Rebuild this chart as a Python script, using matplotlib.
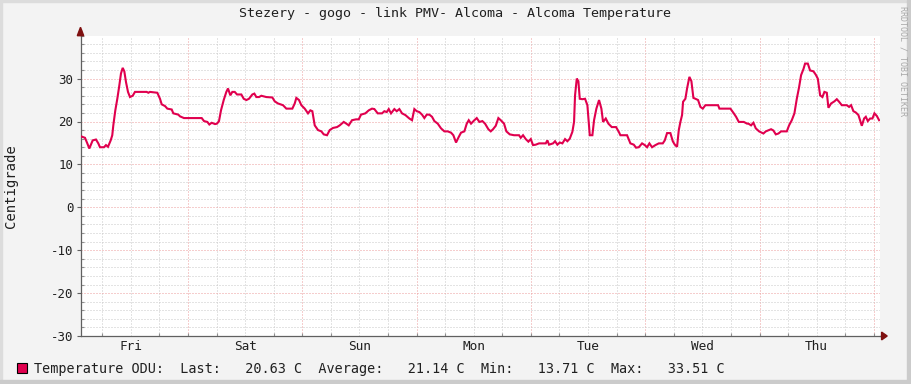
import matplotlib
matplotlib.use("Agg")
import matplotlib.pyplot as plt
from matplotlib.patches import Rectangle, Polygon
from matplotlib.ticker import MultipleLocator, FixedLocator

# hours since Friday 00:00 of the first day, temperature in C
hours = [
    1.4, 2.37, 2.86, 3.28, 3.99, 4.68, 5.17, 5.52, 6.36, 6.78, 7.2, 7.77, 8.1, 8.32,
    8.74, 9.16, 9.58, 9.93, 10.29, 10.63, 10.98, 11.4, 11.82, 12.39, 12.87, 15.33,
    15.67, 16.02, 17.56, 18.12, 18.48, 19.17, 19.66, 20.58, 20.92, 21.97, 22.32,
    23.16, 26.88, 27.36, 28.06, 28.48, 28.98, 29.67,
    30.09, 30.51, 30.93, 31.5, 32.05, 32.4, 32.89, 33.31, 33.81, 34.29, 35.2, 35.7,
    36.25, 36.81, 37.09, 37.51, 37.93, 38.35, 38.91, 39.4, 40.45, 41.71, 42.21,
    42.9, 43.95, 44.65, 45.91, 46.41, 46.75, 47.31, 47.8, 48.51, 49.2, 49.69,
    50.11, 50.61, 51.3, 52.0, 52.5, 53.19, 53.76, 54.45, 55.29, 55.86, 56.7, 57.25,
    57.75, 58.44, 59.28, 59.85, 60.33, 61.24, 61.95, 62.64, 63.13, 63.84, 64.74,
    65.23, 65.73, 66.15, 66.63, 67.33, 67.83, 68.38, 68.94, 69.64, 70.48, 71.04,
    71.53, 72.03, 72.58, 73.14, 73.63, 74.13, 74.68, 75.24, 75.73, 76.44, 77.13,
    77.83, 78.54, 79.23, 79.72, 80.28, 80.85, 81.33, 82.03, 82.53, 82.95, 83.43,
    84.13, 84.63, 85.18,
    85.81, 86.37, 87.07, 87.57, 88.05, 88.62, 89.17, 89.67, 90.36, 90.85, 91.56,
    92.46, 93.51, 93.87, 94.35, 94.92, 95.47, 95.97, 96.45, 97.02, 97.71, 99.12,
    99.46, 99.81, 100.65, 101.07, 101.56, 102.06, 102.61, 103.17, 103.66, 104.16,
    104.71, 105.06, 105.27, 105.63, 105.97, 106.26, 106.81, 107.37, 107.86, 108.36,
    108.91, 109.26, 109.75, 110.31, 110.8, 111.15, 111.72, 112.27, 112.98, 113.47,
    113.88, 114.45, 114.79, 116.19, 116.89, 117.6, 118.08, 118.65, 119.34, 119.91,
    120.39, 120.88, 121.44, 122.14, 122.85, 123.69, 124.11, 124.59, 125.29, 125.79,
    126.21, 126.69, 127.05, 127.39, 127.74, 127.95, 128.44, 128.79, 129.28, 129.7,
    130.12, 130.54, 131.1, 131.59, 132.09, 132.64, 133.35, 135.3, 135.58, 137.89,
    138.6, 139.08, 139.65, 140.7, 141.39,
    141.67, 142.23, 142.72, 143.22, 143.91, 144.82, 145.32, 146.43, 146.92, 147.42,
    147.97, 148.53, 149.73, 150.21, 150.78, 151.33, 151.83, 152.31, 152.73, 153.22,
    153.57, 154.14, 154.62, 155.32, 155.82, 156.24, 156.73, 157.21, 157.63, 158.13,
    158.47, 159.03, 159.73, 160.23, 160.71, 161.28, 162.33, 162.81, 163.23, 163.72,
    164.22, 164.77, 165.12, 165.48, 165.96, 166.32, 166.74, 167.23, 167.71, 168.13,
    168.63, 169.11,
]
temps = [
    16.6, 16.2, 14.9, 13.7, 15.6, 15.8, 14.9, 14.0, 14.0, 14.5, 14.1, 15.6, 16.8, 19.1,
    22.6, 25.3, 28.4, 31.2, 32.5, 31.7, 29.2, 26.9, 25.7, 26.0, 26.9, 26.9,
    26.7, 26.9, 26.7, 25.3, 24.0, 23.6, 23.0, 22.8, 21.9, 21.6, 21.2,
    20.8, 20.8, 20.1, 19.9, 19.3, 19.7, 19.4,
    19.5, 20.1, 22.6, 25.0, 26.9, 27.7, 26.1, 26.9, 26.9, 26.3, 26.3, 25.3,
    25.0, 25.3, 25.7, 26.3, 26.5, 25.7, 25.7, 26.0, 25.7, 25.6, 24.7,
    24.2, 23.8, 23.0, 23.0, 24.2, 25.5, 25.0, 23.8, 23.0, 21.9, 22.6,
    22.4, 19.1, 18.0, 17.7, 17.0, 16.8, 18.0, 18.5, 18.7, 19.1, 19.9, 19.5,
    19.1, 20.3, 20.5, 20.5, 21.6, 21.9, 22.6, 23.0, 22.9, 21.9, 21.9,
    22.4, 22.2, 22.9, 21.9, 22.9, 22.4, 22.9, 21.9, 21.5, 20.7, 20.3,
    22.9, 22.4, 22.2, 21.6, 20.8, 21.6, 21.6, 21.1, 20.1, 19.5, 18.4,
    17.7, 17.7, 17.4, 16.8, 15.1, 16.4, 17.4, 17.7, 19.5, 20.3, 19.5,
    20.3, 20.8, 19.9,
    20.1, 19.5, 18.2, 17.7, 18.2, 19.0, 20.8, 20.3, 19.5, 17.7, 17.0,
    16.8, 16.8, 16.2, 16.8, 15.9, 15.3, 15.9, 14.5, 14.6, 14.9, 14.9,
    15.6, 14.6, 14.9, 15.4, 14.6, 15.1, 14.9, 15.9, 15.4, 16.0,
    17.6, 19.9, 26.1, 30.0, 29.4, 25.3, 25.2, 25.3, 23.8, 16.8,
    16.8, 20.3, 23.0, 25.0, 23.0, 19.9, 20.7, 19.5, 18.7, 18.7,
    18.7, 17.6, 16.8, 16.8, 14.9, 14.6, 13.9, 14.0, 14.9, 14.5,
    14.0, 14.9, 14.0, 14.5, 14.9, 14.9, 15.6, 17.3, 17.3, 15.4,
    14.6, 14.1, 18.0, 19.9, 21.5, 24.6, 25.3, 27.7, 30.4, 29.4,
    25.5, 25.3, 25.0, 23.4, 23.0, 23.8, 23.8, 23.8, 23.0, 23.0,
    21.9, 21.1, 19.9, 19.9, 19.5,
    19.5, 19.1, 19.7, 18.4, 17.7, 17.2, 17.7, 18.2, 17.9, 17.0,
    17.2, 17.7, 17.7, 19.1, 20.3, 21.9, 25.3, 28.0, 30.8, 32.2,
    33.5, 33.5, 31.9, 31.7, 30.9, 30.0, 26.1, 25.7, 26.9, 26.7,
    23.2, 24.2, 24.7, 25.2, 24.6, 23.8, 23.8, 23.4, 23.8, 22.4,
    22.1, 21.5, 20.3, 19.0, 20.7, 21.1, 20.1, 20.7, 20.7, 21.9,
    21.3, 20.3,
]

day_names = ["Fri", "Sat", "Sun", "Mon", "Tue", "Wed", "Thu"]
y_ticks = [-30, -20, -10, 0, 10, 20, 30]
title = "Stezery - gogo - link PMV- Alcoma - Alcoma Temperature"
legend_text = "Temperature ODU:  Last:   20.63 C  Average:   21.14 C  Min:   13.71 C  Max:   33.51 C"

MONO = "DejaVu Sans Mono"
LINE_COLOR = "#E0004E"
W, H = 911, 384

fig = plt.figure(figsize=(W / 100, H / 100), dpi=100, facecolor="#F3F3F3")

# shaded frame like rrdtool
fig.patches.append(Rectangle((0, 1 - 2 / H), 1, 2 / H, transform=fig.transFigure, color="#DCDCDC", zorder=0))
fig.patches.append(Rectangle((0, 0), 2 / W, 1, transform=fig.transFigure, color="#DCDCDC", zorder=0))
fig.patches.append(Rectangle((1 - 4 / W, 0), 4 / W, 1, transform=fig.transFigure, color="#CBCBCB", zorder=0))
fig.patches.append(Rectangle((0, 0), 1, 4 / H, transform=fig.transFigure, color="#CBCBCB", zorder=0))

left, right, top, bottom = 80.5, 880, 35.7, 336
ax = fig.add_axes([left / W, 1 - bottom / H, (right - left) / W, (bottom - top) / H])
ax.set_facecolor("white")

ax.set_xlim(1.43, 169.3)
ax.set_ylim(-30, 40)

# grid
for h in range(6, 170, 6):
    if h % 24:
        ax.axvline(h, color="#C8C8C8", lw=0.72, dashes=(1, 2), zorder=1)
for h in range(24, 170, 24):
    ax.axvline(h, color="#EC9C9C", lw=0.72, dashes=(1, 2), zorder=1)
for v in range(-28, 41, 2):
    if v % 10:
        ax.axhline(v, color="#C8C8C8", lw=0.72, dashes=(1, 2), zorder=1)
for v in y_ticks:
    ax.axhline(v, color="#EC9C9C", lw=0.72, dashes=(1, 2), zorder=1)

ax.plot(hours, temps, color=LINE_COLOR, lw=1.5, zorder=3, solid_joinstyle="miter")

for s in ("top", "right"):
    ax.spines[s].set_visible(False)
for s in ("left", "bottom"):
    ax.spines[s].set_color("#606060")
    ax.spines[s].set_linewidth(0.9)

ax.yaxis.set_major_locator(FixedLocator(y_ticks))
ax.yaxis.set_minor_locator(MultipleLocator(2))
ax.set_yticklabels([str(v) for v in y_ticks], fontfamily=MONO, fontsize=9)
ax.tick_params(axis="y", which="major", direction="out", length=3, width=0.8,
               color="#606060", pad=2, labelcolor="#202020")
ax.tick_params(axis="y", which="minor", direction="in", length=2, width=0.8, color="#909090")

ax.xaxis.set_major_locator(FixedLocator([12 + 24 * i for i in range(7)]))
ax.xaxis.set_minor_locator(MultipleLocator(6))
ax.set_xticklabels(day_names, fontfamily=MONO, fontsize=9.2)
ax.tick_params(axis="x", which="major", length=0, pad=3, labelcolor="#202020")
ax.tick_params(axis="x", which="minor", direction="in", length=2, width=0.8, color="#909090")

# axis arrows
ax.add_patch(Polygon([[-0.004, 1.0], [0.004, 1.0], [0.0, 1.028]], closed=True,
                     transform=ax.transAxes, color="#7F1010", clip_on=False, zorder=5))
ax.plot([0, 0], [1.0, 1.02], transform=ax.transAxes, color="#606060", lw=0.9, clip_on=False)
ax.plot([1.0, 1.004], [0, 0], transform=ax.transAxes, color="#606060", lw=0.9, clip_on=False)
ax.add_patch(Polygon([[1.002, -0.013], [1.002, 0.013], [1.009, 0.0]], closed=True,
                     transform=ax.transAxes, color="#7F1010", clip_on=False, zorder=5))

fig.text(455 / W, 1 - 14 / H, title, ha="center", va="center", fontfamily=MONO,
         fontsize=9.6, color="#202020")
fig.text(11 / W, 1 - 186 / H, "Centigrade", rotation=90, ha="center", va="center",
         fontfamily=MONO, fontsize=10, color="#202020")
fig.text(903 / W, 1 - 6 / H, "RRDTOOL / TOBI OETIKER", rotation=270, ha="center", va="top",
         fontfamily=MONO, fontsize=6, color="#A8A8A8")

# legend
fig.patches.append(Rectangle((17 / W, 1 - 373 / H), 10 / W, 10 / H, transform=fig.transFigure,
                             facecolor=LINE_COLOR, edgecolor="black", lw=0.8))
fig.text(34 / W, 1 - 368.5 / H, legend_text, ha="left", va="center", fontfamily=MONO,
         fontsize=9.75, color="#202020")

fig.savefig("out.png", dpi=100, facecolor=fig.get_facecolor())
